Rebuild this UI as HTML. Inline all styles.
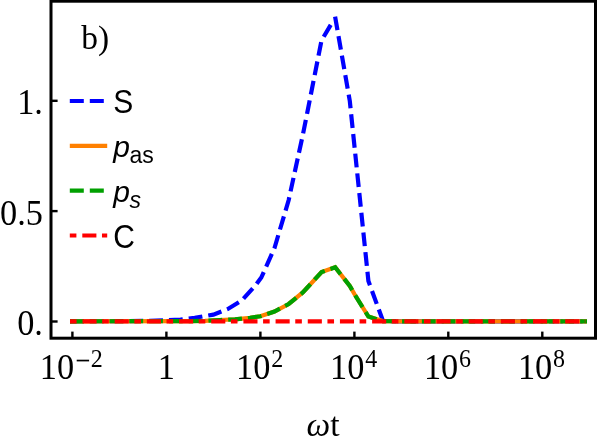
<!DOCTYPE html>
<html>
<head>
<meta charset="utf-8">
<title>Plot b)</title>
<style>
html,body{margin:0;padding:0;background:#fff;}
body{width:598px;height:443px;overflow:hidden;}
svg{display:block;will-change:transform;}
.se{font-family:"Liberation Serif",serif;fill:#000;}
.sa{font-family:"Liberation Sans",sans-serif;fill:#000;}
</style>
</head>
<body>
<svg width="598" height="443" viewBox="0 0 598 443">
<rect x="0" y="0" width="598" height="443" fill="#fff"/>

<!-- curves -->
<g fill="none" stroke-width="4.2" stroke-linejoin="miter" stroke-linecap="butt">
<!-- S : blue dashed -->
<polyline stroke="#0000ff" stroke-dasharray="13.8 6"
 points="70,321.3 120,321.2 150,320.8 166.4,320.3 180.5,319.5 194.7,317.8 213.4,314.6 227.5,309.2 241.7,300.5 255.8,285 261.3,277.5 274.5,248 288.7,200 302.8,135 307.4,112 321.5,40.5 333.2,20.7"/>
<polyline stroke="#0000ff" stroke-dasharray="13.8 6"
 points="335.1,16.6 349.8,101 368.4,281 383,321 400,321.3 587,321.3"/>
<!-- p_as : orange solid -->
<polyline stroke="#ff8000"
 points="70,321.3 190,321.1 205,320.8 220,320 235,319.3 250,317.8 260.4,316.3 274.5,311.5 288.7,304 302.8,292.5 307.4,287.5 321.6,272 335.2,267.3 349.8,286 354.4,294 368.4,316.5 382.7,321.1 400,321.3 587,321.3"/>
<!-- p_s : green dashed -->
<polyline stroke="#00a000" stroke-dasharray="13.8 5.98"
 points="70,321.3 190,321.1 205,320.8 220,320 235,319.3 250,317.8 260.4,316.3 274.5,311.5 288.7,304 302.8,292.5 307.4,287.5 321.6,272 335.2,267.3 349.8,286 354.4,294 368.4,316.5 382.7,321.1 400,321.3 587,321.3"/>
<!-- C : red dot-dashed -->
<polyline stroke="#ff0000" stroke-dasharray="6.6 5.9 14.1 5.58"
 points="70,321.3 585.3,321.3"/>
</g>

<!-- legend -->
<g fill="none" stroke-width="4.2" stroke-linecap="butt">
<line x1="69.8" y1="101" x2="103.8" y2="101" stroke="#0000ff" stroke-dasharray="14 6"/>
<line x1="69.8" y1="145.8" x2="107.2" y2="145.8" stroke="#ff8000"/>
<line x1="69.8" y1="190.7" x2="103.8" y2="190.7" stroke="#00a000" stroke-dasharray="14 6"/>
<line x1="69.8" y1="235.5" x2="107.2" y2="235.5" stroke="#ff0000" stroke-dasharray="6.6 5.9 14.1 5.58"/>
</g>
<text class="sa" transform="translate(113.3,112.9) scale(1,1.09)" font-size="30">S</text>
<text class="sa" x="113.3" y="157.3" font-size="30"><tspan font-style="italic">p</tspan><tspan font-size="23" dx="-0.6" dy="5.6">as</tspan></text>
<text class="sa" x="113.3" y="202.3" font-size="30"><tspan font-style="italic">p</tspan><tspan font-size="23" dx="-0.6" dy="5.6" font-style="italic">s</tspan></text>
<text class="sa" transform="translate(113.3,247.5) scale(1,1.09)" font-size="30">C</text>

<!-- frame -->
<g stroke="#000" fill="none">
<rect x="51" y="1.2" width="544.5" height="337" stroke-width="3"/>
<g stroke-width="2.4">
<line x1="51" y1="100.8" x2="57.6" y2="100.8"/>
<line x1="51" y1="211.1" x2="57.6" y2="211.1"/>
<line x1="51" y1="321.5" x2="57.6" y2="321.5"/>
<line x1="72.4" y1="338" x2="72.4" y2="331.6"/>
<line x1="166.4" y1="338" x2="166.4" y2="331.6"/>
<line x1="260.4" y1="338" x2="260.4" y2="331.6"/>
<line x1="354.4" y1="338" x2="354.4" y2="331.6"/>
<line x1="448.3" y1="338" x2="448.3" y2="331.6"/>
<line x1="542.3" y1="338" x2="542.3" y2="331.6"/>
</g>
</g>

<!-- text -->
<g class="se" font-size="33.5">
<text x="81.3" y="49">b)</text>
<text transform="translate(42.9,114.2) scale(1,1.05)" font-size="34.3" text-anchor="end">1.</text>
<text transform="translate(42.9,224.6) scale(1,1.05)" font-size="34.3" text-anchor="end">0.5</text>
<text transform="translate(42.9,334.8) scale(1,1.05)" font-size="34.3" text-anchor="end">0.</text>
<text transform="translate(39.8,379.0) scale(1,1.05)" font-size="34.3">10</text>
<rect x="76.7" y="359.7" width="12.4" height="1.7" fill="#000"/>
<text transform="translate(90.8,366.9) scale(1,1.06)" font-size="24">2</text>
<text transform="translate(166.4,379.0) scale(1,1.05)" font-size="34.3" text-anchor="middle">1</text>
<text transform="translate(236.0,379.0) scale(1,1.05)" font-size="34.3">10</text>
<text transform="translate(271.2,366.9) scale(1,1.06)" font-size="24">2</text>
<text transform="translate(330.0,379.0) scale(1,1.05)" font-size="34.3">10</text>
<text transform="translate(365.2,366.9) scale(1,1.06)" font-size="24">4</text>
<text transform="translate(423.9,379.0) scale(1,1.05)" font-size="34.3">10</text>
<text transform="translate(459.1,366.9) scale(1,1.06)" font-size="24">6</text>
<text transform="translate(517.9,379.0) scale(1,1.05)" font-size="34.3">10</text>
<text transform="translate(553.1,366.9) scale(1,1.06)" font-size="24">8</text>
<text x="306.5" y="435.9"><tspan font-style="italic">ω</tspan>t</text>
</g>
</svg>
</body>
</html>
